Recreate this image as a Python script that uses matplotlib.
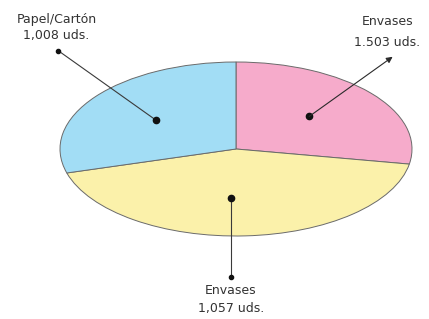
import numpy as np
import matplotlib
matplotlib.use("Agg")
import matplotlib.pyplot as plt

# slice shares as drawn (degrees), clockwise from the top
names = ["Envases", "Envases", "Papel/Cartón"]
counts = ["1.503 uds.", "1,057 uds.", "1,008 uds."]
shares = [100, 154, 106]
colors = ["#f6abcb", "#fbf1aa", "#a2ddf5"]

fig = plt.figure(figsize=(4.29, 3.19), dpi=100)
ax = fig.add_axes([60 / 429, (319 - 236) / 319, 352 / 429, 174 / 319])

wedges, _ = ax.pie(shares, colors=colors, startangle=90, counterclock=False,
                   radius=1.0,
                   wedgeprops=dict(edgecolor="#6a6a6a", linewidth=0.7))
ax.set_aspect("auto")
ax.set_xlim(-1, 1)
ax.set_ylim(-1, 1)
ax.axis("off")

# label placement (data coords of the squashed pie); None x = straight down
label_pos = [(0.89, 1.06, 1.46, 1.22), (None, -1.47, -1.63, -1.83),
             (-1.01, 1.13, 1.49, 1.31)]
text_x = [0.86, None, -1.02]
dot_shift = [2, -6, 1]   # degrees off the wedge middle
r_dot = 0.56
txt = dict(ha="center", va="center", fontsize=9, color="#333333",
           family="DejaVu Sans")

for i, w in enumerate(wedges):
    mid = np.deg2rad((w.theta1 + w.theta2) / 2 + dot_shift[i])
    dx, dy = r_dot * np.cos(mid), r_dot * np.sin(mid)
    lx, ly, ty1, ty2 = label_pos[i]
    if lx is None:
        lx = dx
    tx = text_x[i] if text_x[i] is not None else lx
    if i == 0:
        ax.annotate("", xy=(lx, ly), xytext=(dx, dy),
                    arrowprops=dict(arrowstyle="-|>", color="#2a2a2a",
                                    lw=0.8, mutation_scale=9,
                                    shrinkA=0, shrinkB=0),
                    annotation_clip=False)
    else:
        ax.plot([dx, lx], [dy, ly], color="#3a3a3a", lw=0.8, clip_on=False)
        ax.plot(lx, ly, "o", color="#111111", ms=3, clip_on=False)
    ax.plot(dx, dy, "o", color="#111111", ms=4.5, clip_on=False)
    ax.text(tx, ty1, names[i], clip_on=False, **txt)
    ax.text(tx, ty2, counts[i], clip_on=False, **txt)

fig.savefig("out.png", dpi=100, facecolor="white")
